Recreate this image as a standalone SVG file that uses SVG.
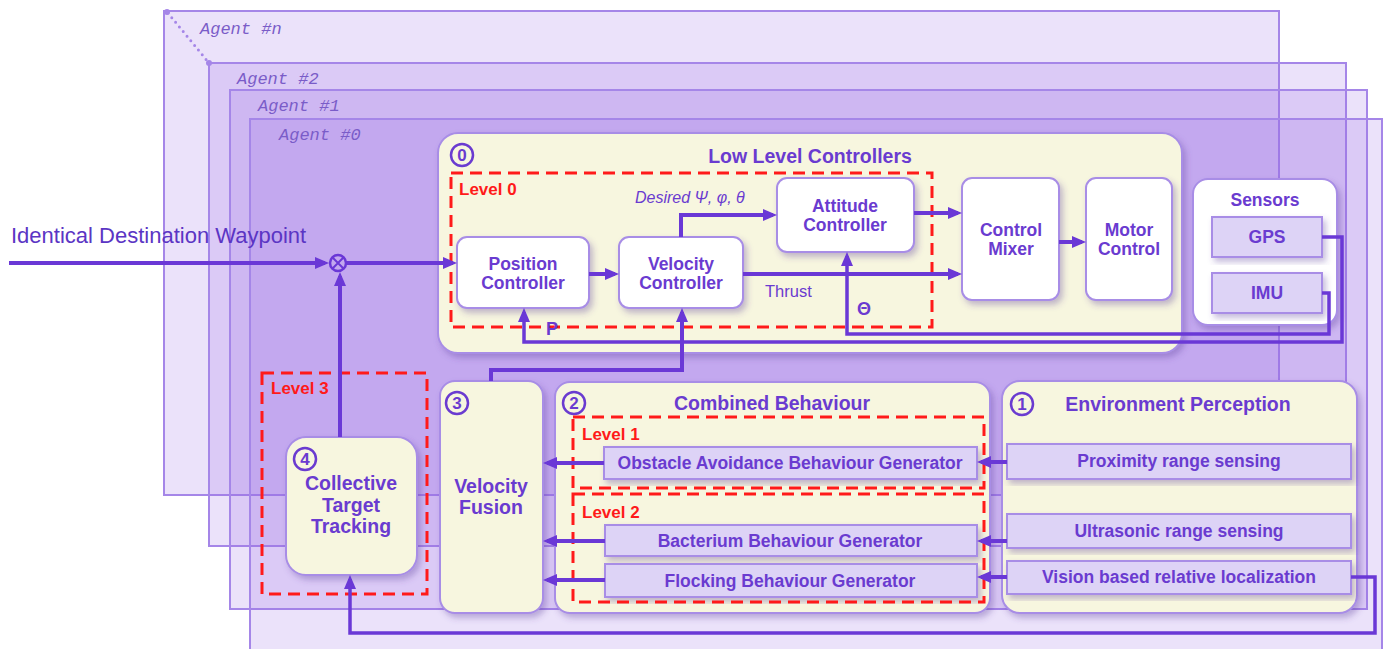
<svg xmlns="http://www.w3.org/2000/svg" width="1389" height="649" viewBox="0 0 1389 649">
<defs>
<style>
.frame{fill:#9d70e8;fill-opacity:0.2;stroke:#a586e8;stroke-width:2}
.agent{font-family:"Liberation Mono","Courier New",monospace;font-style:italic;font-size:17px;fill:#7a5cc8}
.panel{fill:#f7f6df;stroke:#a88de6;stroke-width:2;filter:url(#sh)}
.wbox{fill:#ffffff;stroke:#a88de6;stroke-width:2;filter:url(#sh)}
.lbox{fill:#ddd3f6;stroke:#a88de6;stroke-width:2;filter:url(#sh)}
.t{font-family:"Liberation Sans",Arial,sans-serif;font-weight:bold;fill:#6a3bd0;text-anchor:middle}
.s17{font-size:17.5px}
.s19{font-size:19.5px}
.num{fill:none;stroke:#6a3bd0;stroke-width:2.5}
.numt{font-family:"Liberation Sans",Arial,sans-serif;font-weight:bold;font-size:17px;fill:#6a3bd0;text-anchor:middle}
.lvl{fill:none;stroke:#ff1a1a;stroke-width:3;stroke-dasharray:12 7}
.lvlt{font-family:"Liberation Sans",Arial,sans-serif;font-weight:bold;font-size:17px;fill:#ff1a1a}
.ca{fill:none;stroke:#6a38d6;stroke-width:4;marker-end:url(#ah)}
.fb{stroke-width:3.5}
.lab{font-family:"Liberation Sans",Arial,sans-serif;fill:#6a3bd0}
</style>
<filter id="sh" x="-10%" y="-10%" width="130%" height="130%">
<feDropShadow dx="3" dy="4" stdDeviation="3" flood-color="#5a3a9a" flood-opacity="0.35"/>
</filter>
<marker id="ah" markerUnits="userSpaceOnUse" markerWidth="14" markerHeight="12" refX="10" refY="6" orient="auto">
<path d="M0,0 L14,6 L0,12 z" fill="#6a38d6"/>
</marker>
</defs>

<g id="agents">
<rect class="frame" x="164" y="11" width="1115" height="484"/>
<rect class="frame" x="209" y="63" width="1137" height="483"/>
<rect class="frame" x="230" y="90" width="1137" height="519"/>
<rect class="frame" x="250" y="119" width="1132" height="545"/>
<line x1="168" y1="13" x2="209" y2="63" stroke="#a586e8" stroke-width="3" stroke-linecap="round" stroke-dasharray="0 6"/>
<circle cx="167" cy="12" r="3" fill="#a586e8"/>
<circle cx="209" cy="63" r="3" fill="#a586e8"/>
<text class="agent" x="200" y="34">Agent #n</text>
<text class="agent" x="237" y="84">Agent #2</text>
<text class="agent" x="258" y="111">Agent #1</text>
<text class="agent" x="279" y="140">Agent #0</text>
</g>

<text x="11" y="243" font-family="Liberation Sans, Arial, sans-serif" font-size="22" fill="#5b35c4">Identical Destination Waypoint</text>

<g id="low-level-controllers">
<rect class="panel" x="438" y="133" width="744" height="220" rx="20"/>
<circle class="num" cx="462" cy="155" r="11"/>
<text class="numt" x="462" y="161">0</text>
<text class="t s19" x="810" y="163">Low Level Controllers</text>
</g>

<g id="position-controller">
<rect class="wbox" x="457" y="237" width="132" height="71" rx="10"/>
<text class="t s17" x="523" y="270">Position</text>
<text class="t s17" x="523" y="289">Controller</text>
</g>
<g id="velocity-controller">
<rect class="wbox" x="619" y="237" width="124" height="71" rx="10"/>
<text class="t s17" x="681" y="270">Velocity</text>
<text class="t s17" x="681" y="289">Controller</text>
</g>
<g id="attitude-controller">
<rect class="wbox" x="777" y="178" width="137" height="74" rx="10"/>
<text class="t s17" x="845" y="212">Attitude</text>
<text class="t s17" x="845" y="231">Controller</text>
</g>
<g id="control-mixer">
<rect class="wbox" x="962" y="178" width="97" height="122" rx="10"/>
<text class="t s17" x="1011" y="236">Control</text>
<text class="t s17" x="1011" y="255">Mixer</text>
</g>
<g id="motor-control">
<rect class="wbox" x="1086" y="178" width="86" height="122" rx="10"/>
<text class="t s17" x="1129" y="236">Motor</text>
<text class="t s17" x="1129" y="255">Control</text>
</g>
<g id="sensors">
<rect class="wbox" x="1193" y="179" width="144" height="146" rx="15"/>
<text class="t s17" x="1265" y="206">Sensors</text>
</g>
<g id="gps">
<rect class="lbox" x="1212" y="217" width="110" height="40"/>
<text class="t s17" x="1267" y="243">GPS</text>
</g>
<g id="imu">
<rect class="lbox" x="1212" y="273" width="110" height="40"/>
<text class="t s17" x="1267" y="299">IMU</text>
</g>

<g id="velocity-fusion">
<rect class="panel" x="440" y="381" width="103" height="232" rx="15"/>
<circle class="num" cx="457" cy="403" r="11"/>
<text class="numt" x="457" y="409">3</text>
<text class="t s19" x="491" y="493">Velocity</text>
<text class="t s19" x="491" y="514">Fusion</text>
</g>

<g id="combined-behaviour">
<rect class="panel" x="555" y="382" width="435" height="231" rx="15"/>
<circle class="num" cx="574" cy="403" r="11"/>
<text class="numt" x="574" y="409">2</text>
<text class="t s19" x="772" y="410">Combined Behaviour</text>
</g>
<g id="obstacle-avoidance">
<rect class="lbox" x="604" y="447" width="373" height="32"/>
<text class="t s17" x="790" y="469">Obstacle Avoidance Behaviour Generator</text>
</g>
<g id="bacterium">
<rect class="lbox" x="605" y="525" width="372" height="31"/>
<text class="t s17" x="790" y="547">Bacterium Behaviour Generator</text>
</g>
<g id="flocking">
<rect class="lbox" x="605" y="564" width="372" height="33"/>
<text class="t s17" x="790" y="587">Flocking Behaviour Generator</text>
</g>

<g id="environment-perception">
<rect class="panel" x="1002" y="381" width="355" height="232" rx="18"/>
<circle class="num" cx="1022" cy="404" r="11"/>
<text class="numt" x="1022" y="410">1</text>
<text class="t s19" x="1178" y="411">Environment Perception</text>
</g>
<g id="proximity">
<rect class="lbox" x="1007" y="444" width="344" height="35"/>
<text class="t s17" x="1179" y="467">Proximity range sensing</text>
</g>
<g id="ultrasonic">
<rect class="lbox" x="1007" y="514" width="344" height="34"/>
<text class="t s17" x="1179" y="537">Ultrasonic range sensing</text>
</g>
<g id="vision">
<rect class="lbox" x="1007" y="561" width="344" height="33"/>
<text class="t s17" x="1179" y="583">Vision based relative localization</text>
</g>

<g id="collective-target-tracking">
<rect class="panel" x="286" y="437" width="131" height="138" rx="20"/>
<circle class="num" cx="305" cy="459" r="11"/>
<text class="numt" x="305" y="465">4</text>
<text class="t s19" x="351" y="490">Collective</text>
<text class="t s19" x="351" y="512">Target</text>
<text class="t s19" x="351" y="533">Tracking</text>
</g>

<g id="levels">
<rect class="lvl" x="451" y="173" width="481" height="154"/>
<text class="lvlt" x="459" y="195">Level 0</text>
<rect class="lvl" x="573" y="417" width="411" height="71"/>
<text class="lvlt" x="582" y="440">Level 1</text>
<rect class="lvl" x="573" y="494" width="411" height="108"/>
<text class="lvlt" x="582" y="518">Level 2</text>
<rect class="lvl" x="262" y="373" width="165" height="221"/>
<text class="lvlt" x="271" y="394">Level 3</text>
</g>

<g id="connectors">
<path class="ca" d="M9 263 H325"/>
<circle cx="338" cy="263" r="8" fill="none" stroke="#6a38d6" stroke-width="2.5"/>
<path d="M332.3 257.3 L343.7 268.7 M343.7 257.3 L332.3 268.7" stroke="#6a38d6" stroke-width="2"/>
<path class="ca" d="M346 263 H453"/>
<path class="ca" d="M340 437 V276"/>
<path class="ca" d="M589 274 H615"/>
<path class="ca" d="M681 237 V215 H773"/>
<path class="ca" d="M743 274 H958"/>
<path class="ca" d="M914 213 H958"/>
<path class="ca" d="M1059 242 H1082"/>
<path class="ca fb" d="M1322 237 H1342 V342 H524 V312"/>
<path class="ca fb" d="M1322 293 H1329 V334 H847 V256"/>
<path class="ca" d="M491 381 V370 H682 V312"/>
<path class="ca" d="M604 463 H547"/>
<path class="ca" d="M605 541 H547"/>
<path class="ca" d="M605 580 H547"/>
<path class="ca" d="M1007 462 H981"/>
<path class="ca" d="M1007 541 H981"/>
<path class="ca" d="M1007 577 H981"/>
<path class="ca fb" d="M1351 577 H1375 V633 H350 V579"/>
</g>

<g id="labels">
<text class="lab" x="635" y="203" font-size="16" font-style="italic">Desired Ψ, φ, θ</text>
<text class="lab" x="765" y="297" font-size="16.5">Thrust</text>
<text class="lab" x="864" y="315" font-size="18" font-weight="bold" text-anchor="middle">Θ</text>
<text class="lab" x="546" y="335" font-size="18" font-weight="bold">P</text>
</g>
</svg>
